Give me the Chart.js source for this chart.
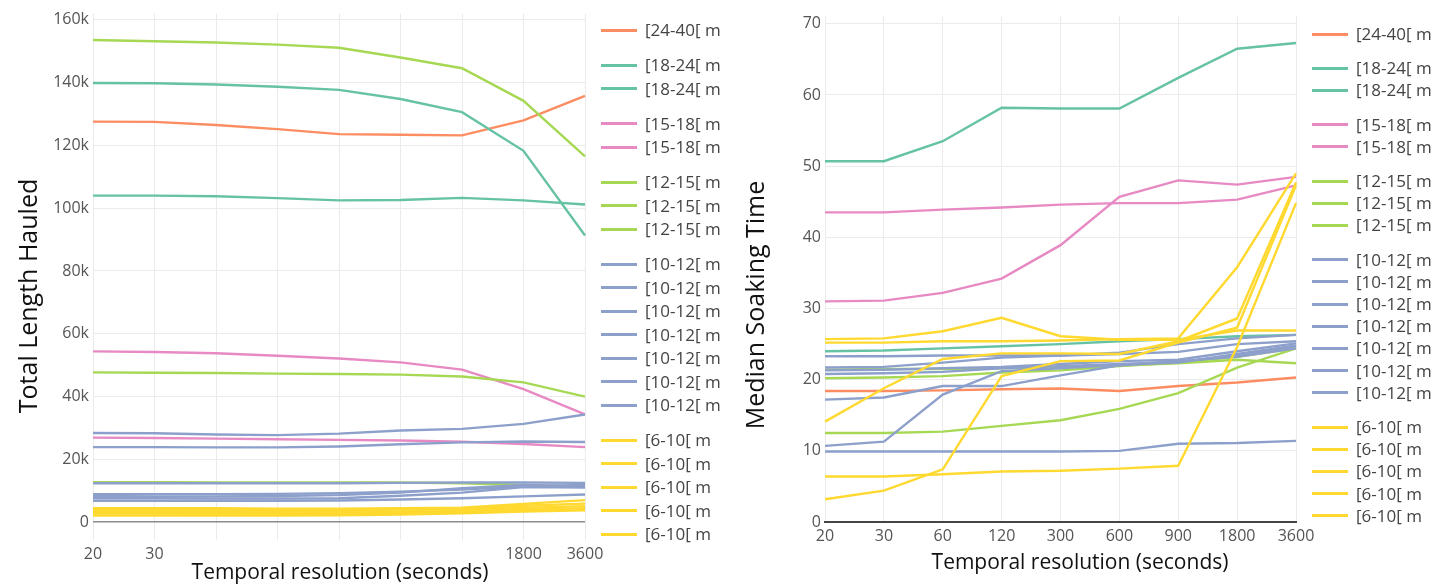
<!DOCTYPE html>
<html>
<head>
<meta charset="utf-8">
<script src="https://cdn.jsdelivr.net/npm/chart.js@4/dist/chart.umd.min.js"></script>
<style>
  html, body { margin: 0; padding: 0; background: #fff; width: 1442px; height: 585px; overflow: hidden; font-family: "Open Sans", sans-serif; }
  .panel { position: absolute; top: 0; height: 585px; }
  .legend { position: absolute; top: 0; }
  .legend .item { position: absolute; left: 0; height: 22px; line-height: 22px; display: flex; align-items: center; white-space: nowrap; font-size: 17px; color: #444; }
  .legend .swatch { display: inline-block; width: 36px; height: 3px; margin-right: 8px; }
</style>
</head>
<body>
<div class="panel" style="left:0;width:620px"><canvas id="lengthChart" width="620" height="585"></canvas></div>
<div class="legend" id="lengthLegend" style="left:601px"></div>
<div class="panel" style="left:720px;width:610px"><canvas id="soakChart" width="610" height="585"></canvas></div>
<div class="legend" id="soakLegend" style="left:1312px"></div>

<script>
// Temporal resolutions (seconds) shared by both panels
const resolutions = ['20', '30', '60', '120', '300', '600', '900', '1800', '3600'];

// Mesh-size class of each trace, in legend order
const sizeClasses = [
  '[24-40[ m',
  '[18-24[ m', '[18-24[ m',
  '[15-18[ m', '[15-18[ m',
  '[12-15[ m', '[12-15[ m', '[12-15[ m',
  '[10-12[ m', '[10-12[ m', '[10-12[ m', '[10-12[ m', '[10-12[ m', '[10-12[ m', '[10-12[ m',
  '[6-10[ m', '[6-10[ m', '[6-10[ m', '[6-10[ m', '[6-10[ m'
];

// Y-axis tick values
const lengthTicks = [0, 20000, 40000, 60000, 80000, 100000, 120000, 140000, 160000];
const soakTicks = [0, 10, 20, 30, 40, 50, 60, 70];

// Total length hauled per trace
const len2440  = [127600, 127500, 126500, 125200, 123600, 123400, 123200, 128000, 135800];
const len1824a = [139900, 139800, 139400, 138700, 137700, 134800, 130600, 118300, 91300];
const len1824b = [104000, 104000, 103800, 103200, 102500, 102600, 103300, 102500, 101200];
const len1518a = [54400, 54200, 53800, 53000, 52100, 50900, 48600, 42400, 34300];
const len1518b = [26900, 26800, 26600, 26400, 26200, 26000, 25600, 24900, 23900];
const len1215a = [153600, 153200, 152800, 152100, 151100, 148000, 144600, 134200, 116500];
const len1215b = [47700, 47600, 47500, 47300, 47200, 47000, 46400, 44500, 40000];
const len1215c = [12700, 12700, 12600, 12600, 12600, 12600, 12400, 11800, 11300];
const len1012a = [28400, 28300, 27900, 27700, 28200, 29200, 29700, 31300, 34300];
const len1012b = [23900, 23900, 23800, 23800, 24100, 24800, 25400, 25700, 25500];
const len1012c = [12400, 12400, 12400, 12400, 12400, 12500, 12600, 12600, 12500];
const len1012d = [8900, 8900, 8900, 9000, 9200, 9700, 10400, 11400, 11800];
const len1012e = [8300, 8200, 8200, 8300, 8600, 9400, 10800, 11800, 11400];
const len1012f = [7600, 7600, 7500, 7500, 7600, 8400, 9400, 11200, 11000];
const len1012g = [6800, 6800, 6800, 6800, 6900, 7200, 7600, 8200, 8800];
const len610a  = [4400, 4400, 4400, 4300, 4300, 4400, 4600, 5800, 7000];
const len610b  = [3900, 3900, 3800, 3800, 3800, 4000, 4300, 5200, 5900];
const len610c  = [3300, 3300, 3200, 3200, 3200, 3400, 3800, 4500, 5100];
const len610d  = [2700, 2700, 2600, 2600, 2700, 2900, 3300, 3900, 4400];
const len610e  = [2100, 2100, 2100, 2100, 2200, 2400, 2800, 3400, 3800];

// Median soaking time per trace
const soak2440  = [18.4, 18.4, 18.5, 18.65, 18.75, 18.4, 19.1, 19.6, 20.3];
const soak1824a = [50.7, 50.7, 53.5, 58.2, 58.1, 58.1, 62.4, 66.5, 67.3];
const soak1824b = [24.0, 24.1, 24.4, 24.7, 25.0, 25.4, 25.7, 26.1, 26.3];
const soak1518a = [43.5, 43.5, 43.9, 44.2, 44.6, 44.8, 44.8, 45.3, 47.3];
const soak1518b = [31.0, 31.1, 32.2, 34.2, 38.9, 45.7, 48.0, 47.4, 48.5];
const soak1215a = [12.5, 12.5, 12.7, 13.5, 14.3, 15.9, 18.1, 21.7, 24.4];
const soak1215b = [21.4, 21.5, 21.5, 21.6, 21.8, 22.0, 22.3, 22.8, 22.3];
const soak1215c = [20.2, 20.3, 20.5, 21.0, 21.3, 21.9, 22.4, 23.2, 24.4];
const soak1012a = [23.3, 23.3, 23.4, 23.4, 23.4, 23.8, 25.0, 25.8, 26.3];
const soak1012b = [21.7, 21.8, 22.4, 23.1, 23.4, 23.6, 23.9, 25.0, 25.4];
const soak1012c = [21.3, 21.4, 21.6, 21.8, 22.2, 22.6, 22.8, 24.0, 25.1];
const soak1012d = [20.8, 20.9, 21.1, 21.6, 21.9, 22.2, 22.5, 23.4, 24.7];
const soak1012e = [17.2, 17.5, 19.1, 19.1, 20.6, 22.0, 22.6, 23.2, 24.4];
const soak1012f = [10.7, 11.3, 17.9, 21.2, 21.6, 22.1, 22.4, 23.6, 24.8];
const soak1012g = [9.9, 9.9, 9.9, 9.9, 9.9, 10.0, 11.0, 11.1, 11.4];
const soak610a  = [25.7, 25.8, 26.8, 28.7, 26.1, 25.6, 25.6, 26.9, 26.9];
const soak610b  = [25.2, 25.2, 25.4, 25.4, 25.5, 25.7, 25.8, 35.8, 49.0];
const soak610c  = [14.1, 18.8, 22.9, 23.7, 23.7, 23.6, 25.4, 28.6, 47.7];
const soak610d  = [6.4, 6.4, 6.7, 7.1, 7.2, 7.5, 7.9, 24.6, 44.8];
const soak610e  = [3.2, 4.4, 7.4, 20.5, 22.6, 22.7, 25.2, 27.3, 47.3];

const lengthSeries = [len2440, len1824a, len1824b, len1518a, len1518b, len1215a, len1215b, len1215c,
  len1012a, len1012b, len1012c, len1012d, len1012e, len1012f, len1012g,
  len610a, len610b, len610c, len610d, len610e];
const soakSeries = [soak2440, soak1824a, soak1824b, soak1518a, soak1518b, soak1215a, soak1215b, soak1215c,
  soak1012a, soak1012b, soak1012c, soak1012d, soak1012e, soak1012f, soak1012g,
  soak610a, soak610b, soak610c, soak610d, soak610e];

// Line colour per size class
const classColours = {
  '[24-40[ m': '#fc8d62',
  '[18-24[ m': '#66c2a5',
  '[15-18[ m': '#e78ac3',
  '[12-15[ m': '#a6d854',
  '[10-12[ m': '#8da0cb',
  '[6-10[ m':  '#ffd92f'
};

const FONT = '"Open Sans", sans-serif';

// Draws free-standing axis captions at fixed canvas positions
const axisCaptions = {
  id: 'axisCaptions',
  afterDraw(chart, args, opts) {
    const ctx = chart.ctx;
    (opts.items || []).forEach(c => {
      ctx.save();
      ctx.translate(c.x, c.y);
      if (c.rotate) ctx.rotate(c.rotate);
      ctx.font = c.font;
      ctx.fillStyle = c.color || '#111';
      ctx.textAlign = 'center';
      ctx.textBaseline = 'middle';
      ctx.fillText(c.text, 0, 0);
      ctx.restore();
    });
  }
};

function makeDatasets(series) {
  return series.map((values, i) => ({
    label: sizeClasses[i],
    data: values,
    borderColor: classColours[sizeClasses[i]],
    backgroundColor: classColours[sizeClasses[i]],
    borderWidth: 2.4,
    pointRadius: 0,
    pointHoverRadius: 0,
    tension: 0,
    fill: false,
    order: series.length - i   // later traces drawn on top
  }));
}

function buildLegend(el, datasets, firstY, step, groupGap) {
  let y = firstY;
  datasets.forEach((ds, i) => {
    if (i > 0) {
      y += step;
      if (ds.label !== datasets[i - 1].label) y += groupGap;
    }
    const item = document.createElement('div');
    item.className = 'item';
    item.style.top = (y - 11) + 'px';
    const sw = document.createElement('span');
    sw.className = 'swatch';
    sw.style.background = ds.borderColor;
    const tx = document.createElement('span');
    tx.textContent = ds.label;
    item.appendChild(sw);
    item.appendChild(tx);
    el.appendChild(item);
  });
}

const tickFont = { family: FONT, size: 16 };
const gridColour = '#ebebeb';

// Left panel: total length hauled
const lengthDatasets = makeDatasets(lengthSeries);
new Chart(document.getElementById('lengthChart'), {
  type: 'line',
  data: { labels: resolutions, datasets: lengthDatasets },
  plugins: [axisCaptions],
  options: {
    responsive: false,
    animation: false,
    devicePixelRatio: 1,
    layout: { padding: { left: 0, right: 35, top: 12, bottom: 0 } },
    plugins: {
      legend: { display: false },
      tooltip: { enabled: false },
      axisCaptions: {
        items: [
          { text: 'Temporal resolution (seconds)', x: 340, y: 573, font: '21px ' + FONT },
          { text: 'Total Length Hauled', x: 30, y: 296, rotate: -Math.PI / 2, font: '25px ' + FONT }
        ]
      }
    },
    scales: {
      x: {
        type: 'category',
        offset: false,
        border: { display: false },
        grid: { color: gridColour, lineWidth: 1, drawTicks: false },
        ticks: {
          font: tickFont, color: '#555', padding: 5, maxRotation: 0, autoSkip: false,
          callback: (v, i) => ([0, 1, 7, 8].includes(i) ? resolutions[i] : '')
        },
        afterFit: s => { s.height = 45; }
      },
      y: {
        type: 'linear',
        min: -5700,
        max: 162000,
        border: { display: false },
        grid: {
          drawTicks: false,
          color: c => (c.tick && c.tick.value === 0 ? '#8c8c8c' : gridColour),
          lineWidth: c => (c.tick && c.tick.value === 0 ? 1.6 : 1)
        },
        ticks: {
          font: tickFont, color: '#555', padding: 4,
          callback: v => (v === 0 ? '0' : (v / 1000) + 'k')
        },
        afterBuildTicks: s => { s.ticks = lengthTicks.map(v => ({ value: v })); },
        afterFit: s => { s.width = 93; }
      }
    }
  }
});
buildLegend(document.getElementById('lengthLegend'), lengthDatasets, 30, 23.5, 11.5);

// Right panel: median soaking time
const soakDatasets = makeDatasets(soakSeries);
new Chart(document.getElementById('soakChart'), {
  type: 'line',
  data: { labels: resolutions, datasets: soakDatasets },
  plugins: [axisCaptions],
  options: {
    responsive: false,
    animation: false,
    devicePixelRatio: 1,
    layout: { padding: { left: 0, right: 34, top: 16, bottom: 0 } },
    plugins: {
      legend: { display: false },
      tooltip: { enabled: false },
      axisCaptions: {
        items: [
          { text: 'Temporal resolution (seconds)', x: 360, y: 563, font: '21px ' + FONT },
          { text: 'Median Soaking Time', x: 37, y: 305, rotate: -Math.PI / 2, font: '25px ' + FONT }
        ]
      }
    },
    scales: {
      x: {
        type: 'category',
        offset: false,
        border: { display: true, color: '#444', width: 2 },
        grid: { color: gridColour, lineWidth: 1, drawTicks: false },
        ticks: { font: tickFont, color: '#555', padding: 5, maxRotation: 0, autoSkip: false },
        afterFit: s => { s.height = 63; }
      },
      y: {
        type: 'linear',
        min: 0,
        max: 71.1,
        border: { display: false },
        grid: { color: gridColour, lineWidth: 1, drawTicks: false },
        ticks: { font: tickFont, color: '#555', padding: 4 },
        afterBuildTicks: s => { s.ticks = soakTicks.map(v => ({ value: v })); },
        afterFit: s => { s.width = 105; }
      }
    }
  }
});
buildLegend(document.getElementById('soakLegend'), soakDatasets, 34, 22.2, 12);
</script>
</body>
</html>
